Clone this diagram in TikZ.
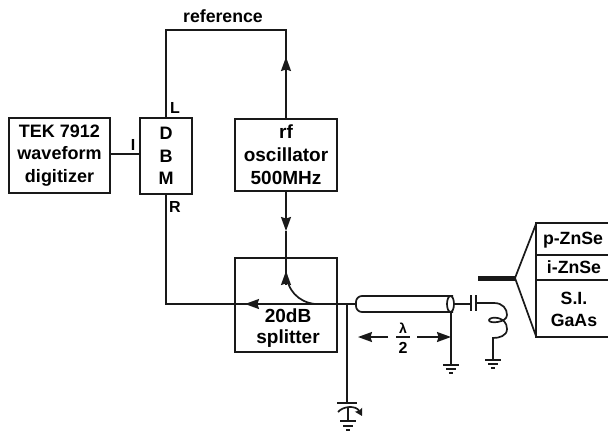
\documentclass[tikz,border=0pt]{standalone}
\usepackage{fontspec}
\setmainfont{Liberation Sans}
\usetikzlibrary{arrows.meta, calc}
\tikzset{
  wire/.style={
    line width=1.7pt,
    color=black!90
  },
  flow/.style={
    -{Stealth[length=14pt, width=10pt, inset=1.5pt]},
    line width=1.7pt,
    color=black!90
  },
  unit box/.style={
    draw=black!90,
    line width=1.7pt,
    inner sep=0pt,
    align=center,
    font=\fontsize{18}{22.5}\selectfont\bfseries
  },
  port label/.style={
    font=\fontsize{16}{18}\selectfont\bfseries,
    inner sep=0pt
  },
  sample label/.style={
    font=\fontsize{17.7}{22}\selectfont\bfseries,
    inner sep=0pt,
    align=center
  }
}

\begin{document}
\begin{tikzpicture}[x=1pt, y=-1pt, >=Stealth]
    \useasboundingbox (0,0) rectangle (608,432);

    % instrument boxes
    \node[unit box, minimum width=101pt, minimum height=75pt] (digitizer) at (59.5,155.5) {TEK 7912\\waveform\\digitizer};
    \node[unit box, minimum width=52pt, minimum height=76pt] (dbm) at (166,156) {D\\B\\M};
    \node[unit box, minimum width=102pt, minimum height=72pt, font=\fontsize{19}{23}\selectfont\bfseries] (osc) at (286,155) {rf\\oscillator\\500MHz};
    \node[unit box, minimum width=102pt, minimum height=94pt] (splitter) at (286,305) {};
    \node[font=\fontsize{19}{21}\selectfont\bfseries, align=center, inner sep=0pt] (splittertext) at (288,328) {20dB\\splitter};

    % labels
    \node[sample label] (reflabel) at (223,16) {reference};
    \node[port label] (ilabel) at (133,145) {I};
    \node[port label] (llabel) at (175,108) {L};
    \node[port label] (rlabel) at (175,207) {R};

    % reference loop
    \coordinate (refleft) at (166,30);
    \coordinate (refright) at (286,30);
    \draw[wire] (dbm.north) -- (refleft) -- (refright) -- (osc.north);
    \draw[flow] (osc.north) -- (286,57);

    % digitizer to mixer
    \draw[wire] (digitizer.east |- 0,154) -- (dbm.west |- 0,154);

    % oscillator to splitter
    \coordinate (bend) at (315,304);
    \draw[flow] (osc.south) -- (286,231);
    \draw[wire] (286,231) -- (286,272);
    \draw[wire] (bend) .. controls (298,302) and (287,290) .. (286,272);
    \draw[flow] (286,285) -- (286,271);

    % coax, mixer R port
    \coordinate (coaxleft) at (356,304);
    \coordinate (rcorner) at (166,304);
    \draw[wire] (dbm.south) -- (rcorner) -- (coaxleft);
    \draw[flow] (270,304) -- (245,304);

    % half wave line
    \draw[wire, rounded corners=6pt] (453,296) -- (356,296) -- (356,312) -- (453,312);
    \draw[wire] (450.5,304) ellipse (3.5pt and 8pt);
    \coordinate (coaxright) at (454,304);
    \coordinate (capleft) at (471,304);
    \coordinate (capright) at (476,303);
    \draw[wire] (coaxright) -- (capleft);
    \draw[wire] (471,295) -- (471,311);
    \draw[wire] (476,295) -- (476,311);

    % inductor
    \draw[wire] (capright) -- (494,303) .. controls (503,303) and (507,309) .. (507,315)
      .. controls (507,323) and (488,324) .. (489,320)
      .. controls (490,316) and (507,316) .. (507,329)
      .. controls (507,336) and (499,338) .. (493,338) -- (493,360);

    % stub grounds
    \coordinate (stubtop) at (451,312);
    \coordinate (stubground) at (451,365);
    \draw[wire] (stubtop) -- (stubground);
    \draw[wire] (443,365) -- (459,365);
    \draw[wire] (446,369) -- (456,369);
    \draw[wire] (449,373) -- (453,373);
    \draw[wire] (485,360) -- (501,360);
    \draw[wire] (488,364) -- (498,364);
    \draw[wire] (491,368) -- (495,368);

    % half wavelength
    \node[font=\fontsize{14}{15}\selectfont\bfseries, inner sep=0pt] (lambda) at (403,328) {λ};
    \node[font=\fontsize{16}{18}\selectfont\bfseries, inner sep=0pt] (two) at (403,348) {2};
    \draw[wire, line width=1.2pt] (396,337) -- (410,337);
    \draw[flow] (388,337) -- (358,337);
    \draw[flow] (417,337) -- (451,337);

    % trimmer capacitor
    \coordinate (shunttop) at (347,304);
    \coordinate (shuntend) at (347,403);
    \draw[wire] (shunttop) -- (shuntend);
    \draw[wire] (337,403) -- (357,403);
    \draw[wire, -{Stealth[length=7pt, width=8pt, inset=1pt]}] (338,412) .. controls (343,406) and (356,405) .. (362,416);
    \draw[wire] (348,408) -- (348,421);
    \draw[wire] (340,421) -- (356,421);
    \draw[wire] (343,426) -- (353,426);
    \draw[wire] (346,430) -- (350,430);

    % sample
    \coordinate (stubtip) at (515,278);
    \draw[line width=5pt, color=black!90] (478,278) -- (stubtip);
    \draw[wire] (536,224) -- (stubtip) -- (536,336);
    \draw[wire] (608,223) -- (536,223) -- (536,337) -- (608,337);
    \draw[wire] (536,255) -- (608,255);
    \draw[wire] (536,280) -- (608,280);
    \node[sample label] (pznse) at (573,240) {p-ZnSe};
    \node[sample label] (iznse) at (574,267) {i-ZnSe};
    \node[sample label] (gaas) at (574,309) {S.I.\\GaAs};
\end{tikzpicture}
\end{document}
